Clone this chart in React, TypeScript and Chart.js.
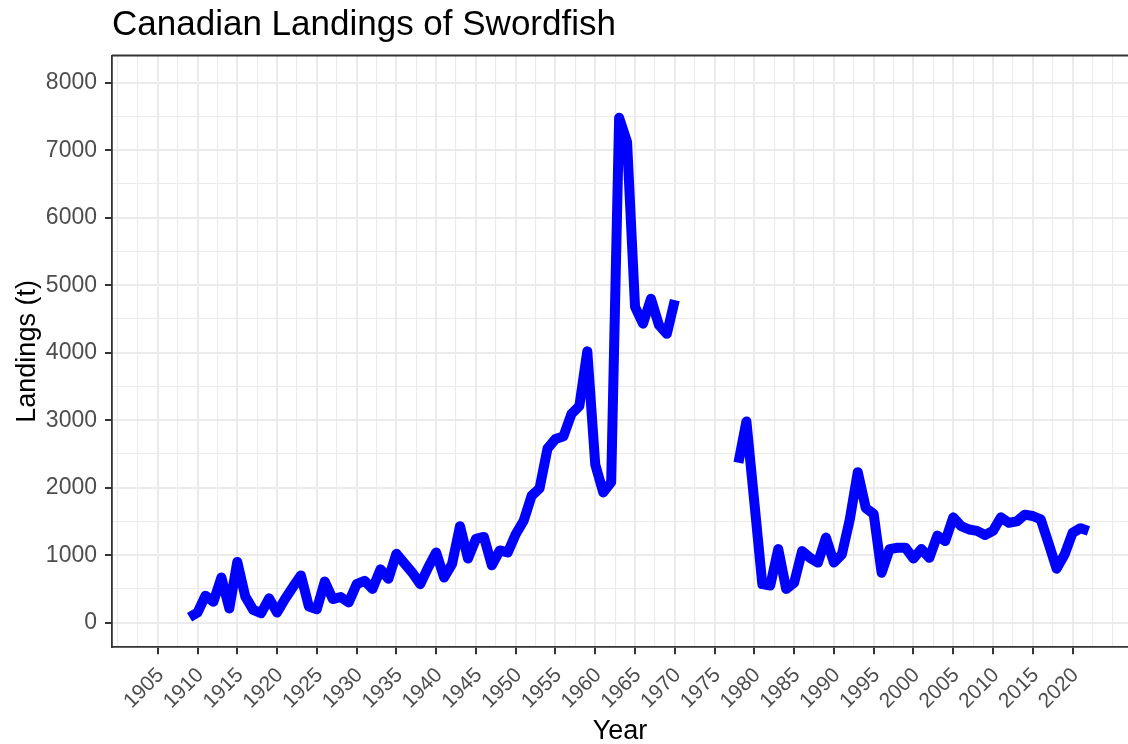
import React, { useEffect, useRef } from 'react';
import { Chart, registerables } from 'chart.js';

Chart.register(...registerables);

const TITLE = 'Canadian Landings of Swordfish';
const X_TITLE = 'Year';
const Y_TITLE = 'Landings (t)';

const yearsEarly = [
  1909, 1910, 1911, 1912, 1913, 1914, 1915, 1916, 1917, 1918,
  1919, 1920, 1921, 1922, 1923, 1924, 1925, 1926, 1927, 1928,
  1929, 1930, 1931, 1932, 1933, 1934, 1935, 1936, 1937, 1938,
  1939, 1940, 1941, 1942, 1943, 1944, 1945, 1946, 1947, 1948,
  1949, 1950, 1951, 1952, 1953, 1954, 1955, 1956, 1957, 1958,
  1959, 1960, 1961, 1962, 1963, 1964, 1965, 1966, 1967, 1968,
  1969, 1970,
];
const landingsEarly = [
  80, 150, 400, 310, 670, 210, 900, 390, 190, 140,
  360, 150, 350, 530, 700, 240, 200, 610, 350, 380,
  300, 570, 620, 500, 790, 650, 1020, 880, 740, 570,
  820, 1040, 670, 870, 1430, 950, 1240, 1270, 850, 1070,
  1040, 1310, 1510, 1880, 1990, 2580, 2720, 2760, 3090, 3210,
  4020, 2340, 1930, 2080, 7480, 7120, 4680, 4430, 4800, 4410,
  4280, 4780,
];

const yearsLate = [
  1978, 1979, 1980, 1981, 1982, 1983, 1984, 1985, 1986, 1987,
  1988, 1989, 1990, 1991, 1992, 1993, 1994, 1995, 1996, 1997,
  1998, 1999, 2000, 2001, 2002, 2003, 2004, 2005, 2006, 2007,
  2008, 2009, 2010, 2011, 2012, 2013, 2014, 2015, 2016, 2017,
  2018, 2019, 2020, 2021, 2022,
];
const landingsLate = [
  2370, 2980, 1780, 570, 550, 1090, 500, 590, 1060, 960,
  890, 1260, 890, 1010, 1530, 2230, 1700, 1610, 740, 1090,
  1110, 1110, 950, 1090, 960, 1290, 1210, 1560, 1430, 1380,
  1360, 1300, 1360, 1560, 1480, 1500, 1600, 1580, 1530, 1170,
  800, 1010, 1330, 1400, 1360,
];

const xTickYears = [
  1905, 1910, 1915, 1920, 1925, 1930, 1935, 1940, 1945, 1950, 1955, 1960,
  1965, 1970, 1975, 1980, 1985, 1990, 1995, 2000, 2005, 2010, 2015, 2020,
];
const yTickValues = [0, 1000, 2000, 3000, 4000, 5000, 6000, 7000, 8000];

const FONT = '"Liberation Sans", Arial, Helvetica, sans-serif';
const GRID = '#EBEBEB';
const DARK = '#333333';
const TICK_TEXT = '#4D4D4D';

// grid positions (major breaks plus half-step minor breaks, extended one step)
const xGrid: number[] = [];
{
  const step = xTickYears[1] - xTickYears[0];
  const ext = [xTickYears[0] - step, ...xTickYears, xTickYears[xTickYears.length - 1] + step];
  for (let i = 0; i < ext.length; i++) {
    xGrid.push(ext[i]);
    if (i < ext.length - 1) xGrid.push(ext[i] + step / 2);
  }
}
const yGrid: number[] = [];
{
  const step = yTickValues[1] - yTickValues[0];
  for (let i = 0; i < yTickValues.length; i++) {
    yGrid.push(yTickValues[i]);
    if (i < yTickValues.length - 1) yGrid.push(yTickValues[i] + step / 2);
  }
}

const X_MIN = 1899.25;
const X_MAX = 2026.97;
const Y_MIN = -365;
const Y_MAX = 8403;

const X_LABEL_SIZE = 21;

const framePlugin = {
  id: 'frame',
  afterDraw(chart: any) {
    const { ctx, chartArea } = chart;
    const xScale = chart.scales.x;
    ctx.save();
    // top panel border
    ctx.strokeStyle = DARK;
    ctx.lineWidth = 1.8;
    ctx.beginPath();
    ctx.moveTo(chartArea.left, chartArea.top);
    ctx.lineTo(chartArea.right, chartArea.top);
    ctx.stroke();
    // main title, aligned with panel
    ctx.fillStyle = '#000000';
    ctx.font = `35px ${FONT}`;
    ctx.textAlign = 'left';
    ctx.textBaseline = 'alphabetic';
    ctx.fillText(TITLE, chartArea.left, 35);
    // rotated x tick labels (angle 45, right/top justified at tick)
    ctx.fillStyle = TICK_TEXT;
    ctx.font = `${X_LABEL_SIZE}px ${FONT}`;
    ctx.textAlign = 'right';
    ctx.textBaseline = 'alphabetic';
    const cap = 0.716 * X_LABEL_SIZE * Math.SQRT1_2;
    for (const yr of xTickYears) {
      const px = xScale.getPixelForValue(yr);
      ctx.save();
      ctx.translate(px + 7, chartArea.bottom + 18 + cap);
      ctx.rotate(-Math.PI / 4);
      ctx.fillText(String(yr), 0, 0);
      ctx.restore();
    }
    ctx.restore();
  },
};

export default function App() {
  const canvasRef = useRef<HTMLCanvasElement | null>(null);

  useEffect(() => {
    const canvas = canvasRef.current;
    if (!canvas) return;
    const lineStyle = {
      borderColor: '#0000FF',
      backgroundColor: '#0000FF',
      borderWidth: 10,
      borderJoinStyle: 'round' as const,
      borderCapStyle: 'butt' as const,
      pointRadius: 0,
      pointHoverRadius: 0,
      tension: 0,
      fill: false,
    };
    const chart = new Chart(canvas, {
      type: 'line',
      data: {
        datasets: [
          {
            label: 'Landings',
            data: yearsEarly.map((y, i) => ({ x: y, y: landingsEarly[i] })),
            ...lineStyle,
          },
          {
            label: 'Landings (late)',
            data: yearsLate.map((y, i) => ({ x: y, y: landingsLate[i] })),
            ...lineStyle,
          },
        ],
      },
      options: {
        animation: false,
        responsive: false,
        devicePixelRatio: 1,
        layout: { padding: { top: 55.5, right: 0, bottom: 0, left: 0 } },
        plugins: {
          legend: { display: false },
          tooltip: { enabled: false },
          title: { display: false },
        },
        scales: {
          x: {
            type: 'linear',
            min: X_MIN,
            max: X_MAX,
            afterBuildTicks: (scale: any) => {
              scale.ticks = xGrid.filter((v) => v >= X_MIN && v <= X_MAX).map((v) => ({ value: v }));
            },
            afterFit: (scale: any) => {
              scale.height = 96.7;
              scale.paddingLeft = 0;
              scale.paddingRight = 0;
            },
            ticks: {
              autoSkip: false,
              maxRotation: 0,
              minRotation: 0,
              color: TICK_TEXT,
              font: { family: FONT, size: X_LABEL_SIZE },
              callback: () => '',
            },
            grid: {
              color: GRID,
              lineWidth: (c: any) => (c.tick && xTickYears.includes(c.tick.value) ? 2 : 1.1),
              tickColor: (c: any) => (c.tick && xTickYears.includes(c.tick.value) ? DARK : 'rgba(0,0,0,0)'),
              tickLength: 7,
              tickWidth: 2,
              drawTicks: true,
            },
            border: { display: true, color: DARK, width: 1.8 },
            title: {
              display: true,
              text: X_TITLE,
              color: '#000000',
              font: { family: FONT, size: 27, lineHeight: 1 },
              padding: { top: 0, bottom: -1.5 },
            },
          },
          y: {
            type: 'linear',
            min: Y_MIN,
            max: Y_MAX,
            afterBuildTicks: (scale: any) => {
              scale.ticks = yGrid.filter((v) => v >= Y_MIN && v <= Y_MAX).map((v) => ({ value: v }));
            },
            afterFit: (scale: any) => {
              scale.width = 112;
            },
            ticks: {
              autoSkip: false,
              padding: 8,
              color: TICK_TEXT,
              font: { family: FONT, size: 23 },
              callback: (v: any) => (yTickValues.includes(Number(v)) ? String(v) : ''),
            },
            grid: {
              color: GRID,
              lineWidth: (c: any) => (c.tick && yTickValues.includes(c.tick.value) ? 2 : 1.1),
              tickColor: (c: any) => (c.tick && yTickValues.includes(c.tick.value) ? DARK : 'rgba(0,0,0,0)'),
              tickLength: 7,
              tickWidth: 2,
              drawTicks: true,
            },
            border: { display: true, color: DARK, width: 1.8 },
            title: {
              display: true,
              text: Y_TITLE,
              color: '#000000',
              font: { family: FONT, size: 27, lineHeight: 1 },
              padding: { top: 14, bottom: 0 },
            },
          },
        },
      },
      plugins: [framePlugin],
    });
    return () => chart.destroy();
  }, []);

  return (
    <div style={{ position: 'absolute', left: 0, top: 0, width: 1128, height: 744, background: '#ffffff' }}>
      <canvas ref={canvasRef} width={1128} height={744} />
    </div>
  );
}
